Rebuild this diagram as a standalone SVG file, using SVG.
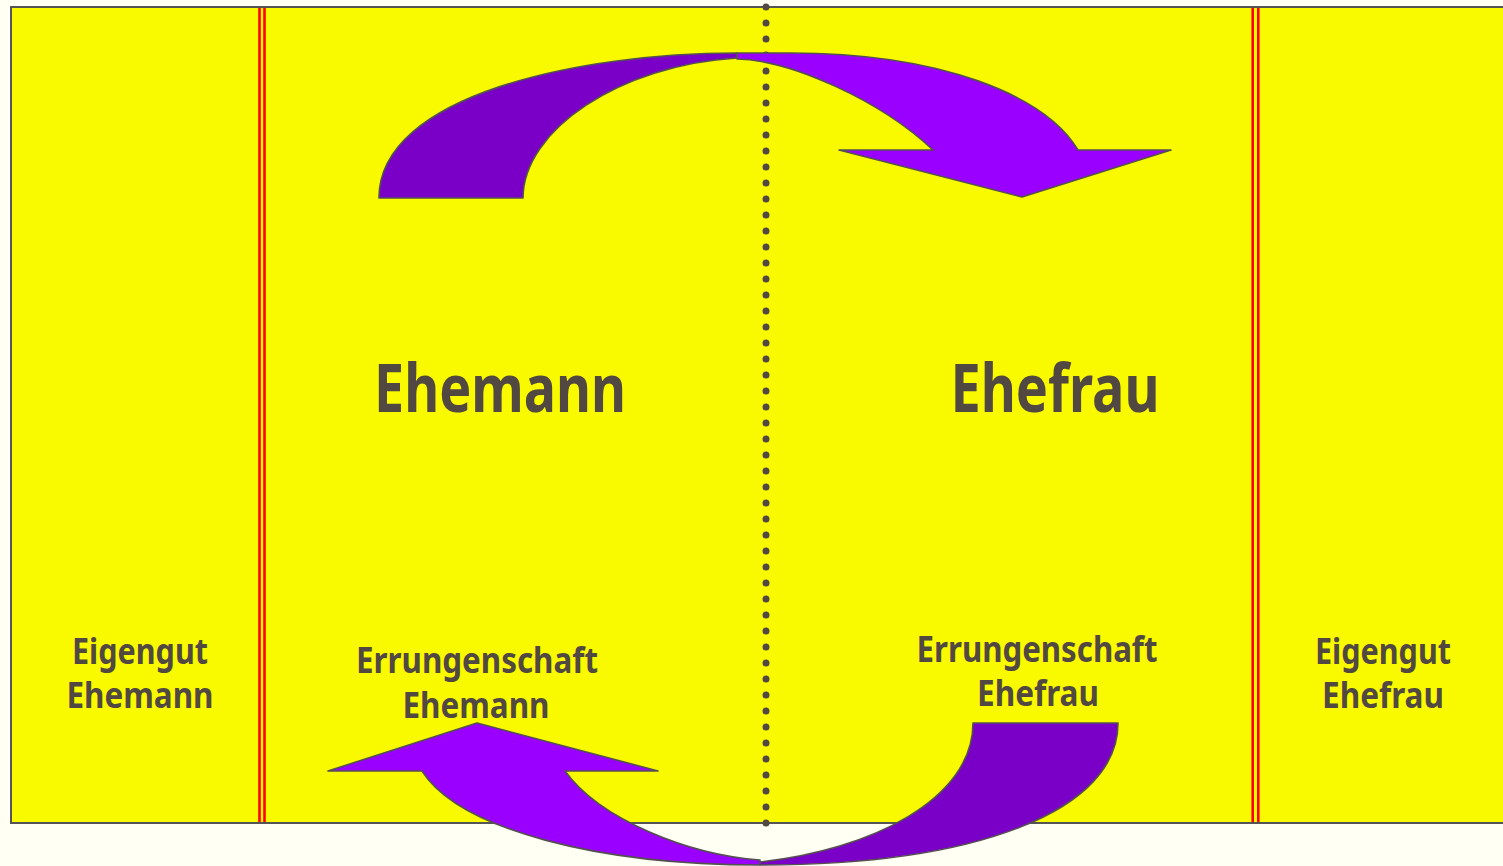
<svg xmlns="http://www.w3.org/2000/svg" width="1503" height="866" viewBox="0 0 1503 866">
<style>
.red{stroke:#FF0000;stroke-width:2.6;fill:none}
.dark{fill:#7A00C8;stroke:#555050;stroke-width:1.6;stroke-linejoin:round}
.bright{fill:#9900FF;stroke:#555050;stroke-width:1.6;stroke-linejoin:round}
.t{font-family:"Noto Sans","Open Sans",sans-serif;font-weight:700;fill:#524842;text-anchor:middle}
.big{font-size:66px}
.sm{font-size:35px}
</style>
<rect x="0" y="0" width="1503" height="866" fill="#FFFFF4"/>
<g id="field">
<rect x="11" y="7" width="1500" height="816" fill="#F9F900" stroke="#555555" stroke-width="2"/>
<line class="red" x1="259.5" y1="8" x2="259.5" y2="822"/>
<line class="red" x1="264.5" y1="8" x2="264.5" y2="822"/>
<line class="red" x1="1252.7" y1="8" x2="1252.7" y2="822"/>
<line class="red" x1="1258.3" y1="8" x2="1258.3" y2="822"/>
<line x1="766" y1="7" x2="766" y2="824" stroke="#514843" stroke-width="7" stroke-linecap="round" stroke-dasharray="0 16"/>
</g>
<g id="connectors">
<path class="dark" d="M379,198 L523,198 C523,130 620,65 737,58 L737,53 C580,53 379,95 379,198 Z"/>
<path class="bright" d="M737,53 L790,53 C940,53 1045,95 1078,150 L1171,150 L1022,197 L839,150 L933,150 C880,100 790,60 737,59 Z"/>
<path class="bright" d="M422,771 C460,830 600,865 760,865 L760,860 C690,855 600,820 565,771 L658,771 L477,723 L328,771 Z"/>
<path class="dark" d="M973,723 L1118,723 C1118,810 980,865 760,865 L760,862 C870,850 973,800 973,723 Z"/>
</g>
<g id="ehemann"><text class="t big" x="500" y="412" textLength="252" lengthAdjust="spacingAndGlyphs">Ehemann</text></g>
<g id="ehefrau"><text class="t big" x="1055" y="412" textLength="209" lengthAdjust="spacingAndGlyphs">Ehefrau</text></g>
<g id="eigengut-ehemann">
<text class="t sm" x="140" y="664" textLength="136" lengthAdjust="spacingAndGlyphs">Eigengut</text>
<text class="t sm" x="140" y="708" textLength="147" lengthAdjust="spacingAndGlyphs">Ehemann</text>
</g>
<g id="errungenschaft-ehemann">
<text class="t sm" x="477" y="673" textLength="242" lengthAdjust="spacingAndGlyphs">Errungenschaft</text>
<text class="t sm" x="476" y="718" textLength="147" lengthAdjust="spacingAndGlyphs">Ehemann</text>
</g>
<g id="errungenschaft-ehefrau">
<text class="t sm" x="1037" y="662" textLength="241" lengthAdjust="spacingAndGlyphs">Errungenschaft</text>
<text class="t sm" x="1038" y="706" textLength="122" lengthAdjust="spacingAndGlyphs">Ehefrau</text>
</g>
<g id="eigengut-ehefrau">
<text class="t sm" x="1383" y="664" textLength="136" lengthAdjust="spacingAndGlyphs">Eigengut</text>
<text class="t sm" x="1383" y="708" textLength="122" lengthAdjust="spacingAndGlyphs">Ehefrau</text>
</g>
</svg>
